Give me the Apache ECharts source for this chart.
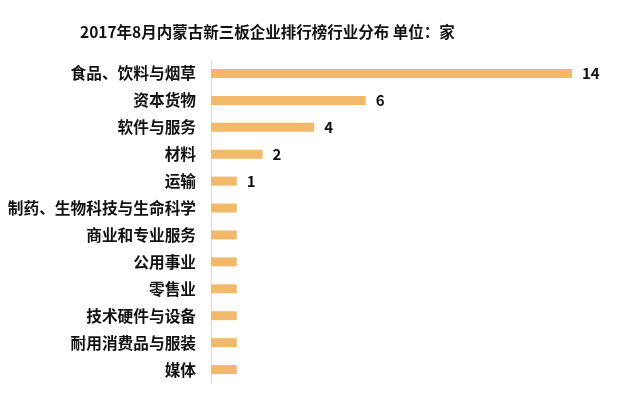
<!DOCTYPE html>
<html>
<head>
<meta charset="utf-8">
<script src="https://cdn.jsdelivr.net/npm/echarts@6/dist/echarts.min.js"></script>
<style>html,body{margin:0;padding:0;background:#fff}#c{width:640px;height:400px}</style>
</head>
<body>
<div id="c"></div>
<script>
var categories = ['食品、饮料与烟草','资本货物','软件与服务','材料','运输','制药、生物科技与生命科学','商业和专业服务','公用事业','零售业','技术硬件与设备','耐用消费品与服装','媒体'];
var values = [14, 6, 4, 2, 1, 1, 1, 1, 1, 1, 1, 1];
var shownLabels = [true, true, true, true, true, false, false, false, false, false, false, false];
var titleText = '2017年8月内蒙古新三板企业排行榜行业分布 单位：家';

var font = '"Noto Sans CJK SC", "Microsoft YaHei", sans-serif';
var chart = echarts.init(document.getElementById('c'));
var seriesData = values.map(function (v, i) {
  return { value: v, label: { show: shownLabels[i] } };
});
chart.setOption({
  animation: false,
  backgroundColor: '#ffffff',
  title: {
    text: titleText,
    left: 75, top: 19,
    textStyle: { fontFamily: font, fontSize: 15.5, fontWeight: 'bold', color: '#111' }
  },
  grid: { left: 211, right: 68, top: 60, bottom: 17, containLabel: false },
  xAxis: {
    type: 'value', min: 0, max: 14, show: false
  },
  yAxis: {
    type: 'category', inverse: true, data: categories,
    axisLine: { show: true, lineStyle: { color: '#d9d9d9', width: 1 } },
    axisTick: { show: false },
    splitLine: { show: false },
    axisLabel: { margin: 15, fontFamily: font, fontSize: 15.7, fontWeight: 'bold', color: '#111' }
  },
  series: [{
    type: 'bar',
    data: seriesData,
    barWidth: 9,
    itemStyle: { color: '#F2B96B' },
    label: {
      position: 'right', distance: 10,
      fontFamily: font, fontSize: 15, fontWeight: 'bold', color: '#111'
    }
  }]
});
</script>
</body>
</html>
